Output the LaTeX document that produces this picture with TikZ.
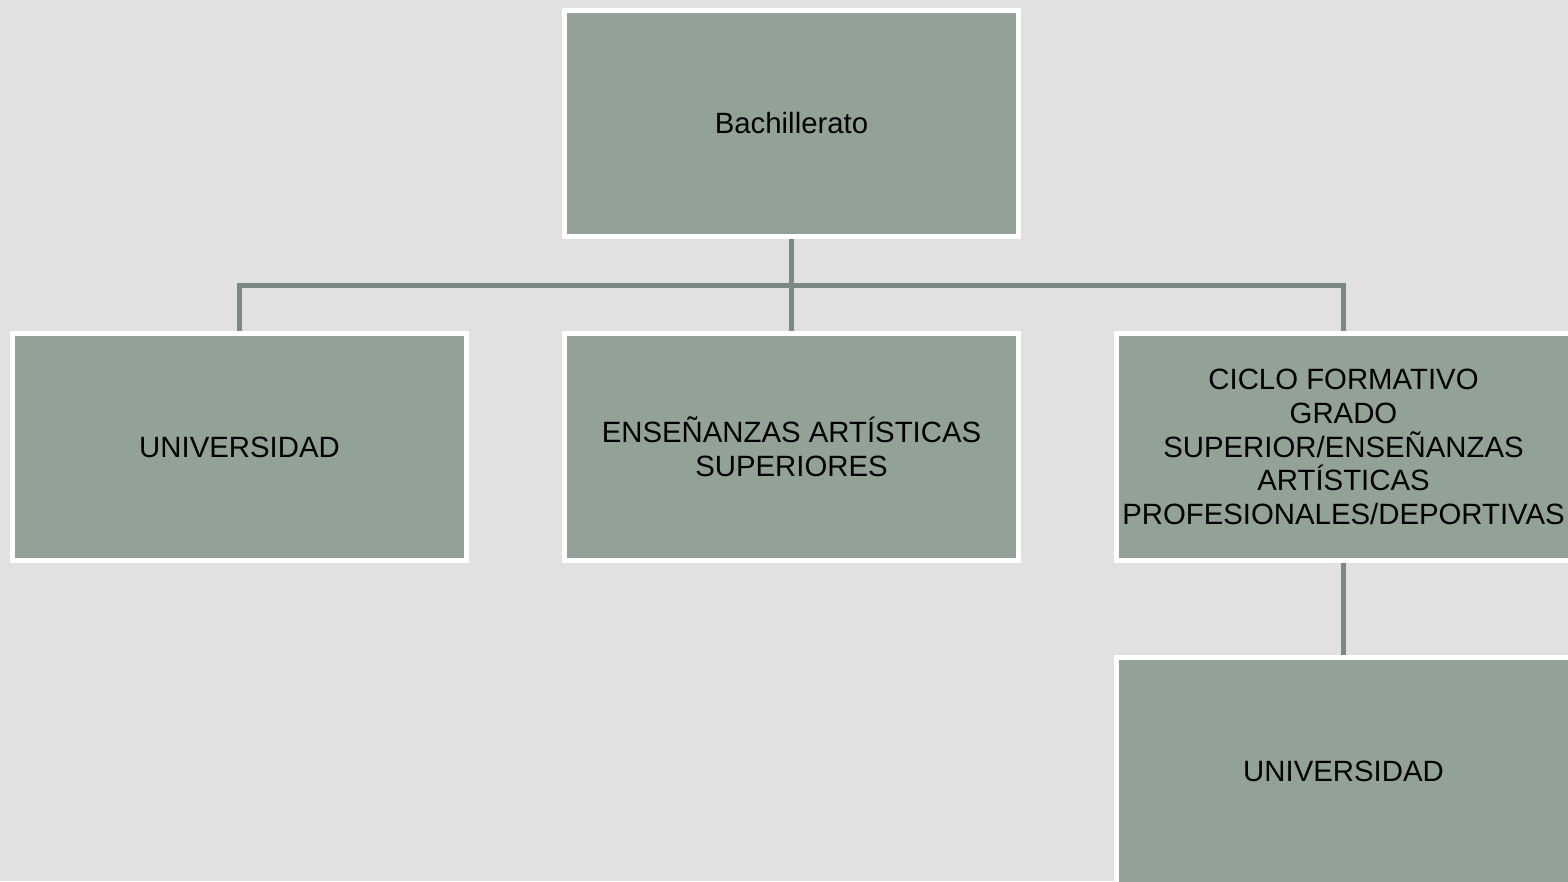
\documentclass[tikz,border=0pt]{standalone}
\usepackage{fontspec}
\setmainfont{Liberation Sans}
\usepackage{xcolor}
\usepackage{tikz}
\usetikzlibrary{positioning, calc}
\definecolor{boxcolor}{RGB}{146,162,151}
\definecolor{linkcolor}{RGB}{122,137,130}
\definecolor{pagecolor}{RGB}{225,225,225}

\begin{document}
\begin{tikzpicture}[
    x=0.2mm, y=-0.2mm,
    element/.style={draw=white, line width=1mm, fill=boxcolor, minimum width=90.8mm, minimum height=45.3mm, font=\fontsize{16.7}{19.2}\selectfont, align=center, inner sep=0pt},
    link/.style={linkcolor, line width=1.1mm}
]
    % Page
    \useasboundingbox (0,0) rectangle (1568,881);
    \clip (0,0) rectangle (1568,881);
    \fill[pagecolor] (0,0) rectangle (1568,881);

    % Top level
    \node[element] (bach) at (791.5,123.5) {Bachillerato};

    % Second level
    \node[element] (uni) at (239.5,447) {UNIVERSIDAD};
    \node[element] (arts) at (791.5,447) {ENSEÑANZAS ARTÍSTICAS\\SUPERIORES};
    \node[element] (ciclo) at (1343.5,447) {CICLO FORMATIVO\\GRADO\\SUPERIOR/ENSEÑANZAS\\ARTÍSTICAS\\PROFESIONALES/DEPORTIVAS};

    % Third level
    \node[element] (uni2) at (1343.5,771) {UNIVERSIDAD};

    % Connections
    \coordinate (split) at ($(bach.south)!0.5!(arts.north)$);
    \draw[link] (bach) -- (arts);
    \draw[link] (uni.north) |- (split) -| (ciclo.north);
    \draw[link] (ciclo) -- (uni2);
\end{tikzpicture}
\end{document}
